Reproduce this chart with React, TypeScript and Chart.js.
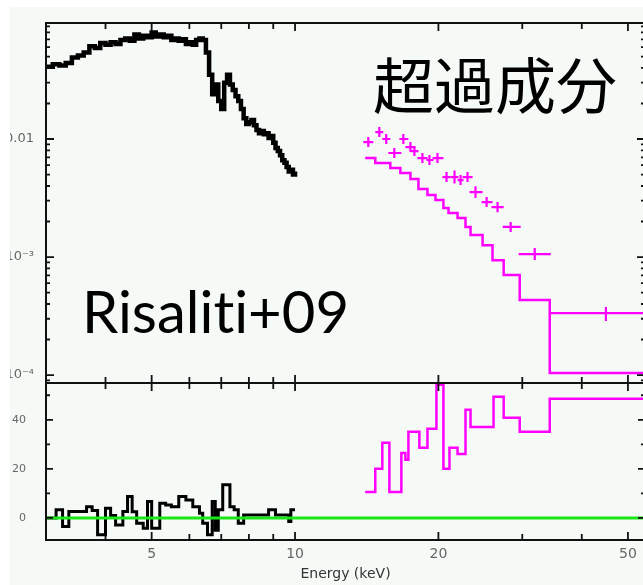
import React, { useEffect, useRef } from "react";
import { Chart, registerables } from "chart.js";

Chart.register(...registerables);

// ---- black spectrum (top panel), keV / counts ----
const blackEnergy = [
  3.0, 3.1, 3.2, 3.3, 3.4, 3.5, 3.6, 3.7, 3.8, 3.9,
  4.0, 4.1, 4.2, 4.3, 4.4, 4.5, 4.6, 4.7, 4.8, 4.9,
  5.0, 5.1, 5.2, 5.3, 5.4, 5.5, 5.6, 5.7, 5.8, 5.9,
  6.0, 6.1, 6.2, 6.3, 6.4, 6.5, 6.6, 6.7, 6.8, 6.9,
  7.0, 7.1, 7.2, 7.3, 7.4, 7.5, 7.6, 7.7, 7.8, 7.9,
  8.0, 8.1, 8.2, 8.3, 8.4, 8.5, 8.6, 8.7, 8.8, 8.9,
  9.0, 9.1, 9.2, 9.3, 9.4, 9.5, 9.6, 9.7, 9.8, 9.9, 10.0,
];
const blackFlux = [
  0.041, 0.043, 0.042, 0.044, 0.049, 0.051, 0.054, 0.061, 0.059, 0.065,
  0.063, 0.066, 0.064, 0.069, 0.071, 0.068, 0.077, 0.071, 0.075, 0.073,
  0.080, 0.074, 0.077, 0.073, 0.075, 0.069, 0.071, 0.068, 0.070, 0.064,
  0.066, 0.063, 0.069, 0.071, 0.069, 0.054, 0.035, 0.024, 0.029, 0.021,
  0.018, 0.030, 0.035, 0.029, 0.026, 0.023, 0.021, 0.018, 0.015, 0.0134,
  0.0139, 0.0145, 0.0131, 0.0119, 0.0112, 0.0117, 0.0110, 0.0112, 0.0102, 0.0106,
  0.0093, 0.0084, 0.0079, 0.0073, 0.0066, 0.0063, 0.0058, 0.0053, 0.0055, 0.0050, 0.0053,
];

// ---- black residuals (bottom panel): bin left edges + values ----
const blackResidEdges = [
  3.0, 3.15, 3.25, 3.35, 3.65, 3.75, 3.85, 4.0, 4.1, 4.2,
  4.35, 4.45, 4.55, 4.65, 4.8, 4.9, 5.0, 5.2, 5.35, 5.5,
  5.7, 5.9, 6.1, 6.3, 6.4, 6.55, 6.7, 6.8, 6.9, 7.05,
  7.3, 7.45, 7.6, 7.8, 8.2, 8.8, 9.1, 9.7, 9.8, 10.0,
];
const blackResid = [
  0, 3.3, -3.5, 2.6, 4.6, 3, -6.9, 3.9, 1, -2.9,
  2.6, 8.7, 2.5, -2.2, -4.2, 6.7, -4.2, 6, 5.3, 4.6,
  8.7, 7.3, 4.6, 1.9, -2.2, -6.9, 6.7, -5, 3.3, 13.5,
  4.6, 3.3, -2.2, 1.2, 1.2, 3.3, 1.2, -1.5, 3.3,
];

// ---- magenta excess data points (top panel) ----
const excessEnergy = [14.25, 15.03, 15.54, 16.16, 16.88, 17.47, 17.81, 18.51, 19.15, 19.91, 20.8, 21.62, 22.26, 23.02, 23.93, 25.25, 26.62, 28.36, 31.86, 44.95];
const excessELo = [13.91, 14.74, 15.25, 15.7, 16.56, 17.05, 17.47, 18.07, 18.87, 19.44, 20.39, 21.21, 21.94, 22.47, 23.25, 24.64, 25.85, 27.29, 29.48, 34.43];
const excessEHi = [14.6, 15.32, 15.85, 16.72, 17.3, 17.89, 18.16, 18.97, 19.53, 20.49, 21.21, 22.04, 22.58, 23.59, 24.76, 25.98, 27.42, 29.77, 34.43, 56];
const excessFlux = [0.00943, 0.01146, 0.01, 0.00761, 0.01, 0.00855, 0.00791, 0.0069, 0.00664, 0.0069, 0.00476, 0.00476, 0.00449, 0.00476, 0.00355, 0.00292, 0.00265, 0.0018, 0.00106, 0.000335];
const excessFluxLo = [0.00855, 0.0104, 0.00907, 0.0069, 0.00907, 0.00776, 0.00718, 0.00626, 0.00602, 0.00626, 0.00432, 0.0042, 0.00407, 0.00432, 0.00316, 0.00265, 0.0024, 0.00163, 0.000943, 0.000287];
const excessFluxHi = [0.0104, 0.01264, 0.01103, 0.00839, 0.01103, 0.00943, 0.00872, 0.00761, 0.00732, 0.00761, 0.00525, 0.0054, 0.00495, 0.00525, 0.00398, 0.00322, 0.00292, 0.00198, 0.00119, 0.000377];

// ---- magenta model step (top panel): edges (n+1) and values (n) ----
const modelEdges = [14.04, 14.74, 15.85, 16.64, 17.47, 18.16, 18.97, 19.72, 20.49, 21.0, 21.94, 22.8, 23.36, 24.76, 25.98, 27.42, 29.63, 34.26, 56];
const modelFlux = [0.0069, 0.00627, 0.00568, 0.00515, 0.00458, 0.00377, 0.00335, 0.00304, 0.0026, 0.00236, 0.00214, 0.0018, 0.00154, 0.00126, 0.00094, 0.000704, 0.000432, 0.000104];

// ---- magenta ratio step (bottom panel) ----
const ratioEdges = [14.04, 14.74, 15.25, 15.78, 16.72, 17.05, 17.3, 18.24, 18.97, 19.81, 20.49, 21.1, 21.94, 22.8, 23.36, 26.11, 27.42, 29.63, 34.26, 56];
const ratioValue = [10.6, 20, 30.6, 10.6, 26.5, 23.7, 35.1, 28.6, 36.3, 54.3, 20, 28.6, 26.1, 44.1, 37.1, 49.4, 40.8, 35.1, 48.6];

// ---- axes ----
const xRange = [3, 54.3];
const xTickValues = [5, 10, 20, 50];
const xMinorTicks = [4, 6, 7, 8, 9, 30, 40];
const yTopRange = [8.56e-5, 0.0962];
const yTopTickValues = [1e-4, 1e-3, 1e-2];
const yTopTickLabels = ["10⁻⁴", "10⁻³", "0.01"];
const yTopMinorTicks = [
  9e-5, 2e-4, 3e-4, 4e-4, 5e-4, 6e-4, 7e-4, 8e-4, 9e-4,
  2e-3, 3e-3, 4e-3, 5e-3, 6e-3, 7e-3, 8e-3, 9e-3,
  2e-2, 3e-2, 4e-2, 5e-2, 6e-2, 7e-2, 8e-2, 9e-2,
];
const yBotRange = [-9, 55];
const yBotTickValues = [0, 20, 40];
const yBotMinorTicks = [10, 30, 50];

const MAGENTA = "#ff00ff";

function steps(edges: number[], vals: number[]) {
  return edges.map((e, i) => ({ x: e, y: vals[Math.min(i, vals.length - 1)] }));
}

const framePlugin = {
  id: "frame",
  afterDatasetsDraw(chart: any) {
    const { ctx, chartArea } = chart;
    const xs = chart.scales.x;
    const ys = chart.scales.yTop;
    ctx.save();
    ctx.beginPath();
    ctx.rect(chartArea.left, ys.top, chartArea.right - chartArea.left, ys.bottom - ys.top);
    ctx.clip();
    ctx.strokeStyle = MAGENTA;
    ctx.lineWidth = 2.2;
    for (let i = 0; i < excessEnergy.length; i++) {
      const px = xs.getPixelForValue(excessEnergy[i]);
      const py = ys.getPixelForValue(excessFlux[i]);
      ctx.beginPath();
      ctx.moveTo(xs.getPixelForValue(excessELo[i]), py);
      ctx.lineTo(xs.getPixelForValue(excessEHi[i]), py);
      ctx.moveTo(px, ys.getPixelForValue(excessFluxLo[i]));
      ctx.lineTo(px, ys.getPixelForValue(excessFluxHi[i]));
      ctx.stroke();
    }
    ctx.restore();
  },
  afterDraw(chart: any) {
    const { ctx, chartArea } = chart;
    const xs = chart.scales.x;
    const yt = chart.scales.yTop;
    const yb = chart.scales.yBot;
    const L = chartArea.left, R = chartArea.right;
    const T = yt.top, M = yt.bottom, B = yb.bottom;
    ctx.save();
    ctx.strokeStyle = "#111";
    ctx.lineWidth = 2;
    ctx.strokeRect(L, T, R - L, B - T);
    ctx.beginPath();
    ctx.moveTo(L, M);
    ctx.lineTo(R, M);
    ctx.stroke();
    ctx.lineWidth = 1.8;
    const vtick = (v: number, len: number) => {
      const px = xs.getPixelForValue(v);
      ctx.beginPath();
      ctx.moveTo(px, T); ctx.lineTo(px, T + len);
      ctx.moveTo(px, M - len); ctx.lineTo(px, M + len);
      ctx.moveTo(px, B); ctx.lineTo(px, B - len);
      ctx.stroke();
    };
    xTickValues.forEach((v) => vtick(v, 8));
    xMinorTicks.forEach((v) => vtick(v, 6));
    const htick = (scale: any, v: number, len: number) => {
      const py = scale.getPixelForValue(v);
      if (py < scale.top || py > scale.bottom) return;
      ctx.beginPath();
      ctx.moveTo(L, py); ctx.lineTo(L + len, py);
      ctx.moveTo(R, py); ctx.lineTo(R - len, py);
      ctx.stroke();
    };
    yTopTickValues.forEach((v) => htick(yt, v, 8));
    yTopMinorTicks.forEach((v) => htick(yt, v, 4));
    yBotTickValues.forEach((v) => htick(yb, v, 7));
    yBotMinorTicks.forEach((v) => htick(yb, v, 4));
    ctx.restore();
  },
};

const fitY = (s: any) => {
  s.width = 66;
  s.paddingTop = 0;
  s.paddingBottom = 0;
};

export default function App() {
  const ref = useRef<HTMLCanvasElement>(null);
  useEffect(() => {
    if (!ref.current) return;
    const chart = new Chart(ref.current, {
      type: "line",
      data: {
        datasets: [
          {
            label: "zero",
            data: [{ x: xRange[0], y: 0 }, { x: xRange[1], y: 0 }],
            yAxisID: "yBot",
            borderColor: "#18e818",
            borderWidth: 3,
            pointRadius: 0,
          },
          {
            label: "spectrum",
            data: blackEnergy.map((e, i) => ({ x: e, y: blackFlux[i] })),
            yAxisID: "yTop",
            borderColor: "#000",
            borderWidth: 4.5,
            stepped: true,
            pointRadius: 0,
          },
          {
            label: "residual",
            data: steps(blackResidEdges, blackResid),
            yAxisID: "yBot",
            borderColor: "#000",
            borderWidth: 3,
            stepped: true,
            pointRadius: 0,
          },
          {
            label: "model",
            data: steps(modelEdges, modelFlux),
            yAxisID: "yTop",
            borderColor: MAGENTA,
            borderWidth: 2.5,
            stepped: true,
            pointRadius: 0,
          },
          {
            label: "excess",
            data: excessEnergy.map((e, i) => ({ x: e, y: excessFlux[i] })),
            yAxisID: "yTop",
            showLine: false,
            pointRadius: 0,
            borderColor: MAGENTA,
          },
          {
            label: "ratio",
            data: steps(ratioEdges, ratioValue),
            yAxisID: "yBot",
            borderColor: MAGENTA,
            borderWidth: 2.5,
            stepped: true,
            pointRadius: 0,
          },
        ],
      },
      options: {
        responsive: false,
        animation: false,
        parsing: false,
        layout: { padding: { left: 0, right: 7, top: 16, bottom: 0 } },
        plugins: { legend: { display: false }, tooltip: { enabled: false } },
        scales: {
          x: {
            type: "logarithmic",
            position: "bottom",
            min: xRange[0],
            max: xRange[1],
            grid: { display: false, drawTicks: false },
            border: { display: false },
            afterBuildTicks: (s: any) => {
              s.ticks = xTickValues.map((v) => ({ value: v }));
            },
            afterFit: (s: any) => {
              s.height = 45;
              s.paddingLeft = 0;
              s.paddingRight = 0;
            },
            ticks: {
              autoSkip: false,
              maxRotation: 0,
              padding: 6,
              color: "#666",
              font: { family: "DejaVu Sans", size: 14 },
              callback: (v: any) => String(v),
            },
            title: {
              display: true,
              text: "Energy (keV)",
              color: "#333",
              font: { family: "DejaVu Sans", size: 14 },
              padding: { top: 0, bottom: 2 },
            },
          },
          yBot: {
            type: "linear",
            position: "left",
            stack: "v",
            stackWeight: 157,
            weight: 0,
            min: yBotRange[0],
            max: yBotRange[1],
            grid: { display: false, drawTicks: false },
            border: { display: false },
            afterBuildTicks: (s: any) => {
              s.ticks = yBotTickValues.map((v) => ({ value: v }));
            },
            afterFit: fitY,
            ticks: {
              autoSkip: false,
              padding: 20,
              color: "#666",
              font: { family: "DejaVu Sans", size: 11 },
              callback: (v: any) => String(v),
            },
          },
          yTop: {
            type: "logarithmic",
            position: "left",
            stack: "v",
            stackWeight: 360,
            weight: 1,
            min: yTopRange[0],
            max: yTopRange[1],
            grid: { display: false, drawTicks: false },
            border: { display: false },
            afterBuildTicks: (s: any) => {
              s.ticks = yTopTickValues.map((v) => ({ value: v }));
            },
            afterFit: fitY,
            ticks: {
              autoSkip: false,
              padding: 12,
              color: "#666",
              font: { family: "DejaVu Sans", size: 13 },
              callback: (_v: any, i: number) => yTopTickLabels[i],
            },
          },
        },
      } as any,
      plugins: [framePlugin],
    });
    return () => chart.destroy();
  }, []);

  return (
    <div>
      <div
        style={{
          position: "absolute",
          left: 10,
          top: 7,
          width: 633,
          height: 578,
          overflow: "hidden",
          background: "#f6faf7",
        }}
      >
        <canvas
          ref={ref}
          width={672}
          height={578}
          style={{ position: "absolute", left: -30, top: 0, width: 672, height: 578 }}
        />
      </div>
      <div
        style={{
          position: "absolute",
          left: 373,
          top: 52,
          fontFamily: "'Noto Sans CJK JP'",
          fontSize: 61,
          lineHeight: "61px",
          color: "#000",
          whiteSpace: "nowrap",
        }}
      >
        超過成分
      </div>
      <div
        style={{
          position: "absolute",
          left: 82,
          top: 282,
          fontFamily: "Lato",
          fontSize: 58,
          lineHeight: "58px",
          color: "#000",
          whiteSpace: "nowrap",
          fontVariantLigatures: "none",
          fontFeatureSettings: "'liga' 0",
        }}
      >
        Risaliti+09
      </div>
    </div>
  );
}
